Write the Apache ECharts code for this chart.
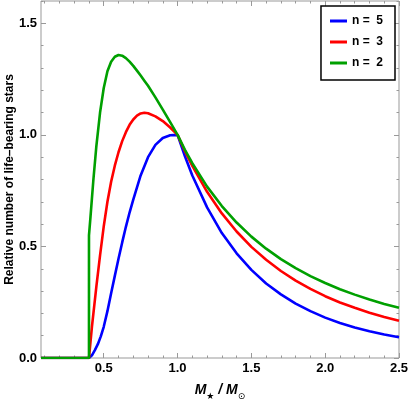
<!DOCTYPE html>
<html>
<head>
<meta charset="utf-8">
<script src="https://cdn.jsdelivr.net/npm/echarts@6/dist/echarts.min.js"></script>
<style>
html, body { margin: 0; padding: 0; background: #fff; }
#chart { width: 409px; height: 399px; }
</style>
</head>
<body>
<div id="chart"></div>
<script>
// series names (legend)
let seriesNames = ['n =  5', 'n =  3', 'n =  2'];

// n = 5 (blue)
let n5Mass = [0.075, 0.40, 0.42, 0.44, 0.46, 0.48, 0.50, 0.525, 0.55, 0.575, 0.60, 0.625, 0.65, 0.675, 0.70, 0.75, 0.80, 0.85, 0.90, 0.95, 1.0,
    1.05, 1.1, 1.2, 1.3, 1.4, 1.5, 1.6, 1.7, 1.8, 1.9, 2.0, 2.1, 2.2, 2.3, 2.4, 2.5];
let n5Value = [0, 0, 0.012, 0.035, 0.062, 0.097, 0.14, 0.21, 0.29, 0.368, 0.445, 0.518, 0.588, 0.652, 0.71, 0.818, 0.9, 0.955, 0.986, 0.998, 1.0,
    0.904, 0.818, 0.675, 0.56, 0.469, 0.395, 0.334, 0.285, 0.244, 0.21, 0.181, 0.157, 0.137, 0.12, 0.105, 0.093];

// n = 3 (red)
let n3Mass = [0.075, 0.40, 0.41, 0.42, 0.43, 0.45, 0.475, 0.50, 0.525, 0.55, 0.575, 0.60, 0.625, 0.65, 0.675, 0.70, 0.725, 0.75, 0.775, 0.80, 0.85, 0.90, 0.95, 1.0,
    1.05, 1.1, 1.2, 1.3, 1.4, 1.5, 1.6, 1.7, 1.8, 1.9, 2.0, 2.1, 2.2, 2.3, 2.4, 2.5];
let n3Value = [0, 0, 0.07, 0.14, 0.2, 0.32, 0.46, 0.59, 0.70, 0.79, 0.862, 0.922, 0.972, 1.012, 1.045, 1.069, 1.086, 1.096, 1.099, 1.097, 1.083, 1.062, 1.033, 1.0,
    0.927, 0.861, 0.745, 0.648, 0.567, 0.498, 0.44, 0.39, 0.347, 0.31, 0.277, 0.249, 0.225, 0.203, 0.184, 0.167];

// n = 2 (green)
let n2Mass = [0.075, 0.40, 0.40, 0.41, 0.42, 0.43, 0.45, 0.475, 0.50, 0.525, 0.55, 0.575, 0.60, 0.625, 0.65, 0.675, 0.70, 0.725, 0.75, 0.775, 0.80, 0.85, 0.90, 0.95, 1.0,
    1.05, 1.1, 1.2, 1.3, 1.4, 1.5, 1.6, 1.7, 1.8, 1.9, 2.0, 2.1, 2.2, 2.3, 2.4, 2.5];
let n2Value = [0, 0, 0.55, 0.63, 0.715, 0.80, 0.95, 1.10, 1.21, 1.285, 1.328, 1.35, 1.358, 1.355, 1.344, 1.328, 1.309, 1.288, 1.266, 1.243, 1.22, 1.168, 1.113, 1.057, 1.0,
    0.933, 0.873, 0.768, 0.681, 0.607, 0.544, 0.49, 0.443, 0.403, 0.367, 0.336, 0.308, 0.284, 0.262, 0.242, 0.225];

// ticks
let xMajorTicks = [0.5, 1.0, 1.5, 2.0, 2.5];
let xMinorTicks = [0.1, 0.2, 0.3, 0.4, 0.6, 0.7, 0.8, 0.9, 1.1, 1.2, 1.3, 1.4, 1.6, 1.7, 1.8, 1.9, 2.1, 2.2, 2.3, 2.4];
let yMajorTicks = [0, 0.5, 1.0, 1.5];
let yMinorTicks = [0.1, 0.2, 0.3, 0.4, 0.6, 0.7, 0.8, 0.9, 1.1, 1.2, 1.3, 1.4, 1.6];

let colors = ['#0000ff', '#ff0000', '#00a000'];
let frameColor = '#999999';

function pairs(xs, ys) {
    return xs.map(function (x, i) { return [x, ys[i]]; });
}

function makeAxis(pos, min, max, ticks, len, labels) {
    return {
        type: 'value',
        position: pos,
        min: min,
        max: max,
        nameMoveOverlap: false,
        axisLine: { show: false, onZero: false },
        splitLine: { show: false },
        axisTick: {
            show: true,
            inside: true,
            length: len,
            customValues: ticks,
            lineStyle: { color: frameColor, width: 1 }
        },
        axisLabel: {
            show: labels,
            customValues: ticks,
            color: '#000',
            fontFamily: 'Liberation Sans, Arial, sans-serif',
            fontWeight: 'bold',
            fontSize: 13,
            margin: 4,
            formatter: function (v) { return v.toFixed(1); }
        }
    };
}

let myChart = echarts.init(document.getElementById('chart'));

let xMain = makeAxis('bottom', 0.075, 2.5, xMajorTicks, 5, true);
xMain.name = '{m|M}{s|★}{m| / M}{s|⊙}';
xMain.nameLocation = 'middle';
xMain.nameGap = 21;
xMain.nameTextStyle = {
    rich: {
        m: { fontFamily: 'Liberation Sans, Arial, sans-serif', fontWeight: 'bold', fontStyle: 'italic', fontSize: 14, color: '#000', lineHeight: 22 },
        s: { fontFamily: 'DejaVu Sans, sans-serif', fontSize: 9, color: '#000', lineHeight: 22, verticalAlign: 'bottom' }
    }
};

let yMain = makeAxis('left', 0, 1.6, yMajorTicks, 5, true);
yMain.name = 'Relative number of life\u2013bearing stars';
yMain.nameLocation = 'middle';
yMain.nameGap = 25;
yMain.nameTextStyle = {
    fontFamily: 'Liberation Sans, Arial, sans-serif',
    fontWeight: 'bold',
    fontSize: 12,
    color: '#000'
};

let option = {
    animation: false,
    backgroundColor: '#fff',
    color: colors,
    grid: {
        left: 41,
        right: 10,
        top: 1,
        bottom: 41,
        outerBoundsMode: 'none',
        containLabel: false,
        show: true,
        borderColor: frameColor,
        borderWidth: 1,
        backgroundColor: 'transparent'
    },
    legend: {
        data: seriesNames,
        orient: 'vertical',
        right: 14,
        top: 6,
        icon: 'rect',
        itemWidth: 17,
        itemHeight: 3,
        itemGap: 7,
        padding: [8, 12, 10, 9],
        borderColor: '#000',
        borderWidth: 1.5,
        backgroundColor: '#fff',
        textStyle: {
            fontFamily: 'Liberation Sans, Arial, sans-serif',
            fontWeight: 'bold',
            fontSize: 12,
            lineHeight: 14,
            color: '#000'
        }
    },
    xAxis: [
        xMain,
        makeAxis('bottom', 0.075, 2.5, xMinorTicks, 2.5, false),
        makeAxis('top', 0.075, 2.5, xMajorTicks, 5, false),
        makeAxis('top', 0.075, 2.5, xMinorTicks, 2.5, false)
    ],
    yAxis: [
        yMain,
        makeAxis('left', 0, 1.6, yMinorTicks, 2.5, false),
        makeAxis('right', 0, 1.6, yMajorTicks, 5, false),
        makeAxis('right', 0, 1.6, yMinorTicks, 2.5, false)
    ],
    series: [
        { name: seriesNames[0], type: 'line', data: pairs(n5Mass, n5Value) },
        { name: seriesNames[1], type: 'line', data: pairs(n3Mass, n3Value) },
        { name: seriesNames[2], type: 'line', data: pairs(n2Mass, n2Value) }
    ].map(function (s) {
        s.showSymbol = false;
        s.symbol = 'none';
        s.lineStyle = { width: 2.6 };
        s.emphasis = { disabled: true };
        return s;
    })
};

myChart.setOption(option);
</script>
</body>
</html>
